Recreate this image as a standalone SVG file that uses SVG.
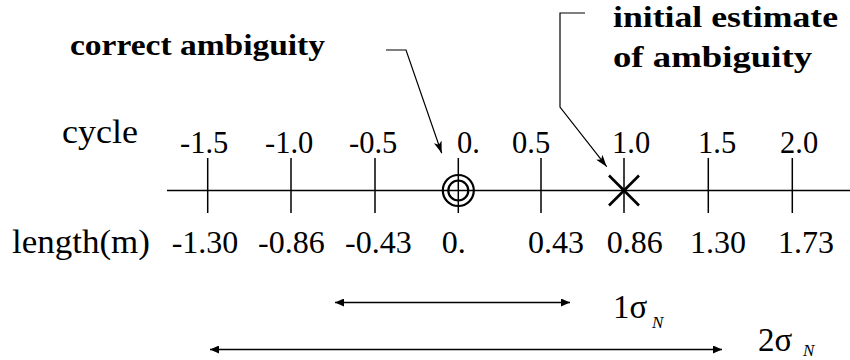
<svg xmlns="http://www.w3.org/2000/svg" width="850" height="360" viewBox="0 0 850 360">
<defs>
<style>
text{font-family:'Liberation Serif','Times New Roman',serif;fill:#000}
.b{font-weight:bold;font-size:30px}
.cy{font-size:30.5px}
.ln{font-size:32px}
.sg{font-size:33px}
.sub{font-size:17px;font-style:italic}
.ln2{stroke:#000;fill:none}
</style>
<marker id="ah" viewBox="0 0 12 8" refX="12" refY="4" markerWidth="12" markerHeight="8" markerUnits="userSpaceOnUse" orient="auto">
<path d="M0,0 L12,4 L0,8 L3,4 Z" fill="#000"/>
</marker>
<marker id="dh" viewBox="0 0 9 8" refX="9" refY="4" markerWidth="9" markerHeight="8" markerUnits="userSpaceOnUse" orient="auto-start-reverse">
<path d="M0,0 L9,4 L0,8 Z" fill="#000"/>
</marker>
</defs>
<rect width="850" height="360" fill="#fff"/>

<g id="axis">
<line class="ln2" x1="167" y1="190.5" x2="850" y2="190.5" stroke-width="1.5"/>
<g class="ln2" stroke-width="1.5">
<line x1="207.7" y1="158" x2="207.7" y2="213"/>
<line x1="291" y1="158" x2="291" y2="213"/>
<line x1="375" y1="158" x2="375" y2="213"/>
<line x1="458.3" y1="158" x2="458.3" y2="213"/>
<line x1="541" y1="158" x2="541" y2="213"/>
<line x1="624" y1="158" x2="624" y2="213"/>
<line x1="708.3" y1="158" x2="708.3" y2="213"/>
<line x1="792.3" y1="158" x2="792.3" y2="213"/>
</g>
</g>

<g id="correct-marker">
<circle class="ln2" cx="458.3" cy="190.5" r="15.5" stroke-width="2.2"/>
<circle class="ln2" cx="458.3" cy="190.5" r="10" stroke-width="2.2"/>
</g>

<g id="estimate-marker">
<line class="ln2" x1="609" y1="175.5" x2="639" y2="205.5" stroke-width="2.6"/>
<line class="ln2" x1="639" y1="175.5" x2="609" y2="205.5" stroke-width="2.6"/>
</g>

<g id="cycle-labels">
<text x="62" y="143" font-size="33" textLength="76" lengthAdjust="spacingAndGlyphs">cycle</text>
<text class="cy" x="180" y="153">-1.5</text>
<text class="cy" x="265" y="153">-1.0</text>
<text class="cy" x="349" y="153">-0.5</text>
<text class="cy" x="457" y="153">0.</text>
<text class="cy" x="512" y="153">0.5</text>
<text class="cy" x="612" y="153">1.0</text>
<text class="cy" x="698" y="153">1.5</text>
<text class="cy" x="780" y="153">2.0</text>
</g>

<g id="length-labels">
<text x="12" y="252.7" font-size="33" textLength="138" lengthAdjust="spacingAndGlyphs">length(m)</text>
<text class="ln" x="171.7" y="252.7">-1.30</text>
<text class="ln" x="258" y="252.7">-0.86</text>
<text class="ln" x="345" y="252.7">-0.43</text>
<text class="ln" x="441.7" y="252.7">0.</text>
<text class="ln" x="528" y="252.7">0.43</text>
<text class="ln" x="606.7" y="252.7">0.86</text>
<text class="ln" x="690" y="252.7">1.30</text>
<text class="ln" x="778" y="252.7">1.73</text>
</g>

<g id="label-correct">
<text class="b" x="70" y="55" textLength="255" lengthAdjust="spacingAndGlyphs">correct ambiguity</text>
</g>
<g id="label-initial">
<text class="b" x="613" y="27" textLength="225" lengthAdjust="spacingAndGlyphs">initial estimate</text>
<text class="b" x="613" y="67" textLength="199" lengthAdjust="spacingAndGlyphs">of ambiguity</text>
</g>

<g id="sigma-labels">
<text class="sg" x="613" y="318">1σ</text>
<text class="sub" x="652" y="328">N</text>
<text class="sg" x="758" y="351">2σ</text>
<text class="sub" x="803" y="356">N</text>
</g>

<g id="connectors" class="ln2" stroke-width="1.2">
<polyline points="386,50 406,50 441.7,153.3" marker-end="url(#ah)"/>
<polyline points="585,13 560,13 560,107 606.7,166.7" marker-end="url(#ah)"/>
<line x1="335" y1="302.5" x2="570" y2="302.5" stroke-width="1.5" marker-start="url(#dh)" marker-end="url(#dh)"/>
<line x1="210" y1="349.5" x2="722" y2="349.5" stroke-width="1.5" marker-start="url(#dh)" marker-end="url(#dh)"/>
</g>
</svg>
